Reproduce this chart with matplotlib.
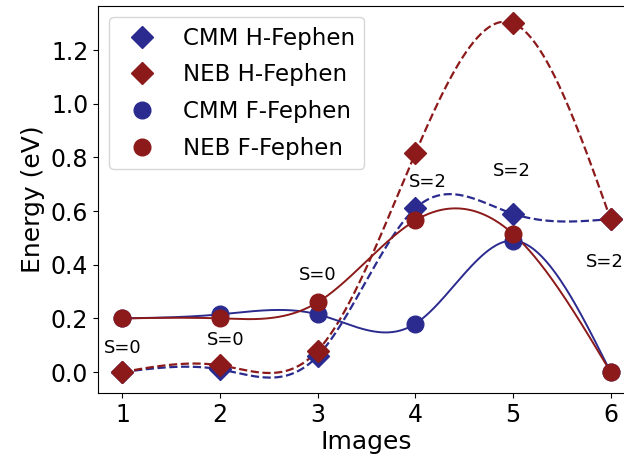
import numpy as np
import matplotlib
matplotlib.use("Agg")
import matplotlib.pyplot as plt

images = [1, 2, 3, 4, 5, 6]
cmm_h = [0.0, 0.01, 0.06, 0.61, 0.59, 0.57]
neb_h = [0.0, 0.025, 0.08, 0.815, 1.30, 0.57]
cmm_f = [0.20, 0.215, 0.215, 0.18, 0.49, 0.0]
neb_f = [0.20, 0.20, 0.26, 0.565, 0.515, 0.0]

spin_labels = ["S=0", "S=0", "S=0", "S=2", "S=2", "S=2"]
spin_x = [1.0, 2.06, 3.0, 4.13, 4.99, 5.94]
spin_y = [0.09, 0.12, 0.36, 0.71, 0.75, 0.41]

BLUE = "#2b2b8f"
RED = "#8c1a1a"


def natural_spline(x, y, xs):
    x = np.asarray(x, float); y = np.asarray(y, float)
    n = len(x)
    h = np.diff(x)
    A = np.zeros((n, n)); b = np.zeros(n)
    A[0, 0] = 1.0
    A[-1, -1] = 1.0
    for i in range(1, n - 1):
        A[i, i - 1] = h[i - 1]
        A[i, i] = 2 * (h[i - 1] + h[i])
        A[i, i + 1] = h[i]
        b[i] = 6 * ((y[i + 1] - y[i]) / h[i] - (y[i] - y[i - 1]) / h[i - 1])
    M = np.linalg.solve(A, b)
    idx = np.clip(np.searchsorted(x, xs) - 1, 0, n - 2)
    xi = x[idx]; hi = h[idx]
    t1 = x[idx + 1] - xs; t0 = xs - xi
    return (M[idx] * t1 ** 3 / (6 * hi) + M[idx + 1] * t0 ** 3 / (6 * hi)
            + (y[idx] / hi - M[idx] * hi / 6) * t1
            + (y[idx + 1] / hi - M[idx + 1] * hi / 6) * t0)


fig = plt.figure(figsize=(6.24, 4.59), dpi=100)
ax = fig.add_axes([98 / 624, 1 - 393 / 459, (635 - 98) / 624, (393 - 6) / 459])

xs = np.linspace(1, 6, 400)
ax.plot(xs, natural_spline(images, cmm_h, xs), "--", color=BLUE, lw=1.6)
ax.plot(xs, natural_spline(images, neb_h, xs), "--", color=RED, lw=1.6)
ax.plot(xs, natural_spline(images, cmm_f, xs), "-", color=BLUE, lw=1.4)
ax.plot(xs, natural_spline(images, neb_f, xs), "-", color=RED, lw=1.4)

ax.plot(images, cmm_h, "D", color=BLUE, ms=11.5, ls="none", label="CMM H-Fephen")
ax.plot(images, neb_h, "D", color=RED, ms=11.5, ls="none", label="NEB H-Fephen")
ax.plot(images, cmm_f, "o", color=BLUE, ms=12, ls="none", label="CMM F-Fephen")
ax.plot(images, neb_f, "o", color=RED, ms=12, ls="none", label="NEB F-Fephen")

for s, sx, sy in zip(spin_labels, spin_x, spin_y):
    ax.text(sx, sy, s, ha="center", va="center", fontsize=13)

ax.set_xlim(0.75, 6.25)
ax.set_ylim(-0.078, 1.364)
ax.set_xticks(images)
ax.set_yticks([0.0, 0.2, 0.4, 0.6, 0.8, 1.0, 1.2])
ax.set_yticklabels(["0.0", "0.2", "0.4", "0.6", "0.8", "1.0", "1.2"])
ax.tick_params(labelsize=17)
ax.set_xlabel("Images", fontsize=18, labelpad=2)
ax.set_ylabel("Energy (eV)", fontsize=18, labelpad=4)
ax.legend(loc="upper left", fontsize=16.5, handletextpad=0.8,
          borderaxespad=0.5, labelspacing=0.6)

fig.savefig("out.png", dpi=100)
